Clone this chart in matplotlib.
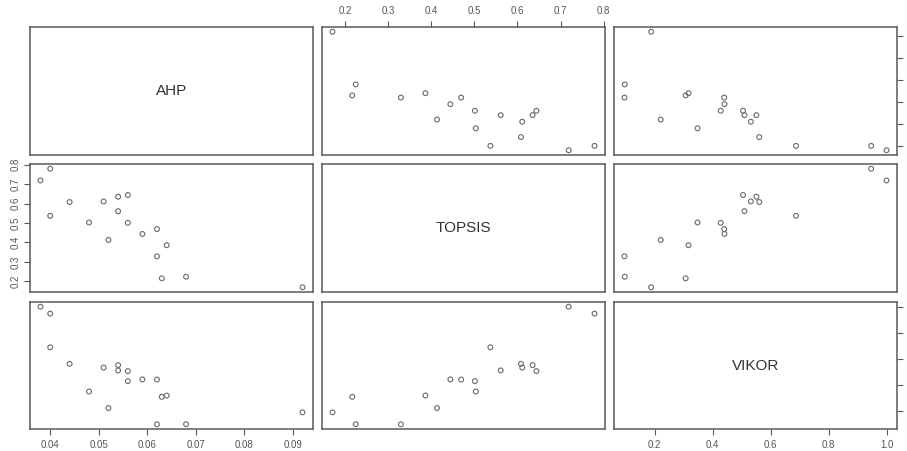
# -*- coding: utf-8 -*-
import numpy as np
import matplotlib
matplotlib.use("Agg")
import matplotlib.pyplot as plt

plt.rcParams['font.family'] = ['Liberation Sans', 'DejaVu Sans']

# scores of the 18 alternatives under each method
names = ["AHP", "TOPSIS", "VIKOR"]
ahp = [0.038, 0.040, 0.040, 0.044, 0.048, 0.051, 0.052, 0.054, 0.054,
       0.056, 0.056, 0.059, 0.062, 0.062, 0.063, 0.064, 0.068, 0.092]
topsis = [0.719, 0.779, 0.537, 0.608, 0.503, 0.611, 0.413, 0.635, 0.561,
          0.644, 0.501, 0.444, 0.469, 0.329, 0.216, 0.386, 0.224, 0.170]
vikor = [1.000, 0.947, 0.688, 0.561, 0.348, 0.532, 0.221, 0.551, 0.510,
         0.505, 0.428, 0.441, 0.440, 0.096, 0.307, 0.317, 0.097, 0.188]

ahp_ticks = [0.04, 0.05, 0.06, 0.07, 0.08, 0.09]
topsis_ticks = [0.2, 0.3, 0.4, 0.5, 0.6, 0.7, 0.8]
vikor_ticks = [0.2, 0.4, 0.6, 0.8, 1.0]

data = [ahp, topsis, vikor]
ticks = [ahp_ticks, topsis_ticks, vikor_ticks]

W, H = 907, 451
fig = plt.figure(figsize=(W / 100, H / 100), dpi=100)

col_x = [(30, 313), (322, 605), (614, 897)]
row_y = [(27, 155), (164, 292), (302, 429)]

box_col = "#5a5a5a"
txt_col = "#555555"
pt_col = "#6a6a6a"


def r_lim(v):
    lo, hi = min(v), max(v)
    pad = (hi - lo) * 0.04
    return lo - pad, hi + pad


for i in range(3):
    for j in range(3):
        x0, x1 = col_x[j]
        y0, y1 = row_y[i]
        ax = fig.add_axes([x0 / W, 1 - y1 / H, (x1 - x0) / W, (y1 - y0) / H])
        for s in ax.spines.values():
            s.set_color(box_col)
            s.set_linewidth(1.1)
        ax.set_xlim(*r_lim(data[j]))
        ax.set_ylim(*r_lim(data[i]))
        ax.tick_params(colors=box_col, labelcolor=txt_col, labelsize=7,
                       length=4, width=0.8, pad=3)
        ax.set_xticks([])
        ax.set_yticks([])
        if i == j:
            ax.text(0.5, 0.5, names[i], transform=ax.transAxes,
                    ha="center", va="center", fontsize=11, color="#333333")
        else:
            ax.scatter(data[j], data[i], s=12, facecolors="none",
                       edgecolors=pt_col, linewidths=0.8)

        # axes alternate sides like R's pairs()
        if i == 0 and j == 1:
            ax.xaxis.tick_top()
            ax.set_xticks(ticks[j])
            ax.set_xticklabels(["%g" % t for t in ticks[j]])
            ax.tick_params(axis="x", pad=4)
        if i == 2 and j in (0, 2):
            ax.set_xticks(ticks[j])
            ax.set_xticklabels(["%g" % t if t != 1.0 else "1.0" for t in ticks[j]])
            ax.tick_params(axis="x", pad=4)
        if j == 0 and i == 1:
            ax.set_yticks(ticks[i])
            ax.set_yticklabels(["%g" % t for t in ticks[i]], rotation=90,
                               va="center")
        if j == 2 and i in (0, 2):
            ax.yaxis.tick_right()
            ax.set_yticks(ticks[i])
            ax.set_yticklabels([])

fig.savefig("out.png", dpi=100)
